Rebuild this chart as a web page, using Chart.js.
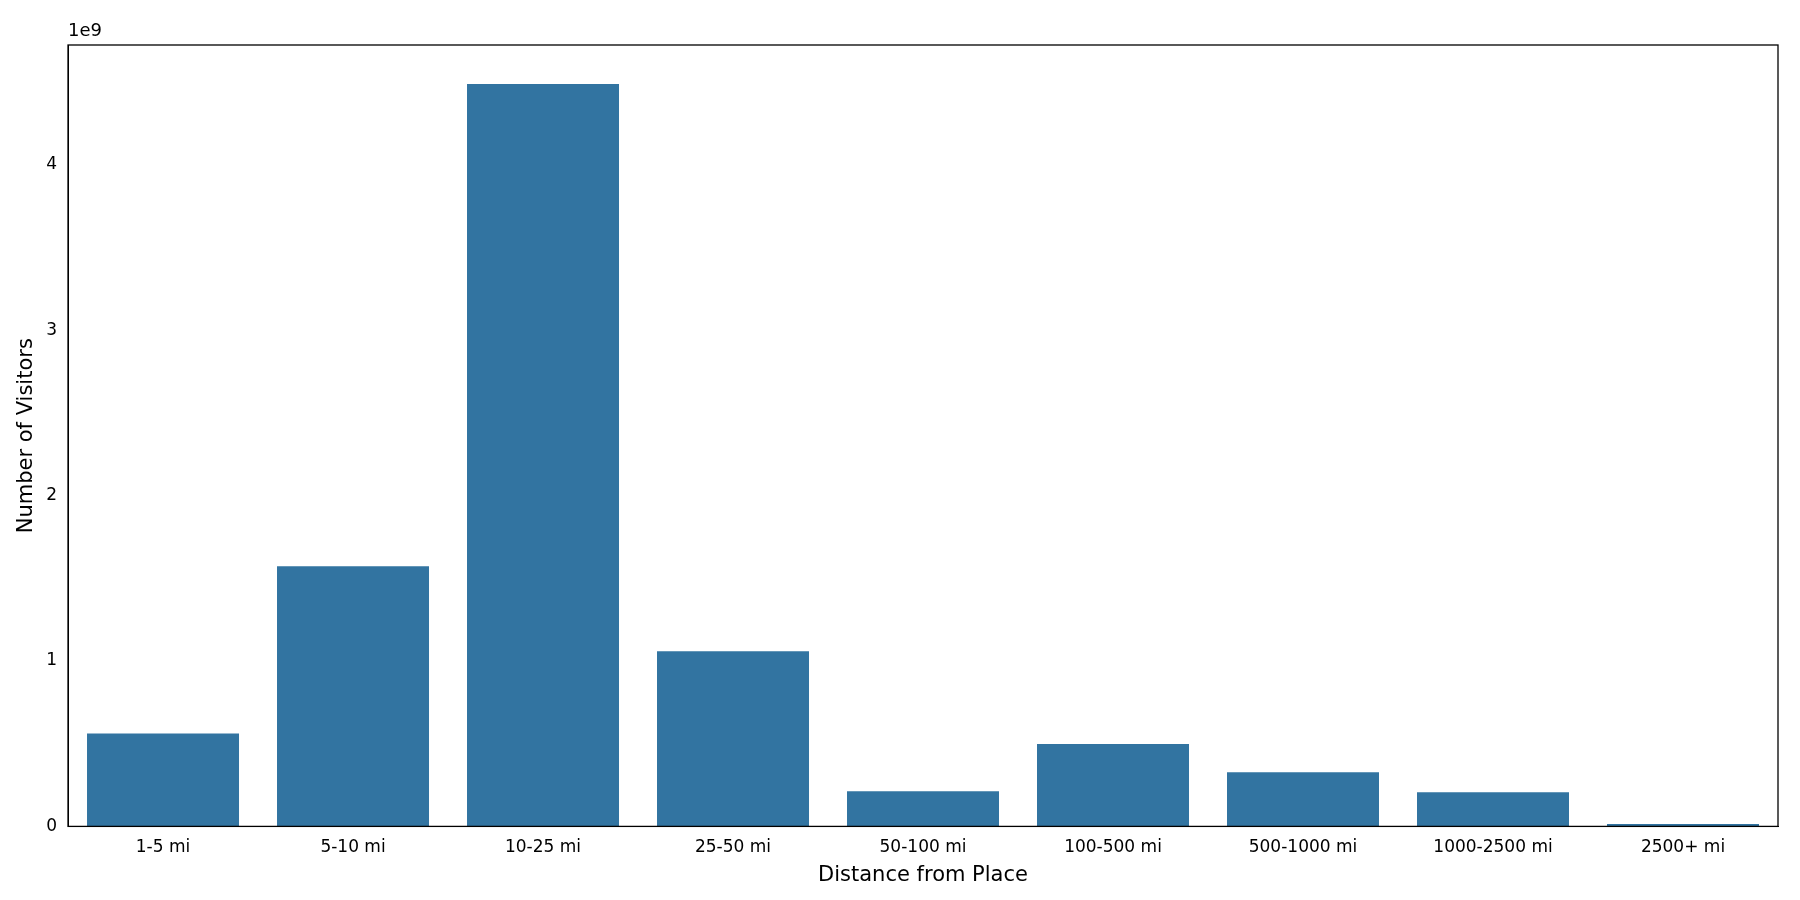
<!DOCTYPE html>
<html><head><meta charset="utf-8">
<script src="https://cdn.jsdelivr.net/npm/chart.js@4"></script>
<style>html,body{margin:0;padding:0;background:#fff}#w{width:1800px;height:900px}</style>
</head><body><div id="w"><canvas id="c"></canvas></div>
<script>
const categories=["1-5 mi","5-10 mi","10-25 mi","25-50 mi","50-100 mi","100-500 mi","500-1000 mi","1000-2500 mi","2500+ mi"];
const visitors=[0.562e9,1.573e9,4.49e9,1.06e9,0.213e9,0.498e9,0.327e9,0.206e9,0.014e9];
const yTicks=[0,1e9,2e9,3e9,4e9];
const font={family:"DejaVu Sans",size:18};
const frame={id:'frame',afterDraw(ch){const a=ch.chartArea,x=ch.ctx;x.save();x.strokeStyle='#000';x.lineWidth=1.3;x.strokeRect(a.left,a.top,a.right-a.left,a.bottom-a.top);
x.fillStyle='#000';x.font='18px "DejaVu Sans"';x.textAlign='left';x.textBaseline='bottom';x.fillText('1e9',a.left,a.top-5);x.restore();}};
new Chart(document.getElementById('c'),{type:'bar',
data:{labels:categories,datasets:[{data:visitors,backgroundColor:'#3274a1',categoryPercentage:0.8,barPercentage:1}]},
options:{responsive:true,maintainAspectRatio:false,animation:false,
layout:{padding:{top:45,right:22,left:10,bottom:8}},
plugins:{legend:{display:false},tooltip:{enabled:false}},
scales:{
x:{grid:{display:false,drawTicks:true},border:{color:'#000'},ticks:{color:'#000',font:{family:"DejaVu Sans",size:17},maxRotation:0},
title:{display:true,text:'Distance from Place',color:'#000',font:{family:"DejaVu Sans",size:21},padding:{top:2}}},
y:{min:0,max:4.726e9,afterBuildTicks(s){s.ticks=yTicks.map(v=>({value:v}));},
grid:{display:false},border:{color:'#000'},
ticks:{color:'#000',font:{family:"DejaVu Sans",size:17},callback:v=>String(v/1e9)},
title:{display:true,text:'Number of Visitors',color:'#000',font:{family:"DejaVu Sans",size:21}}}}},
plugins:[frame]});
</script></body></html>
